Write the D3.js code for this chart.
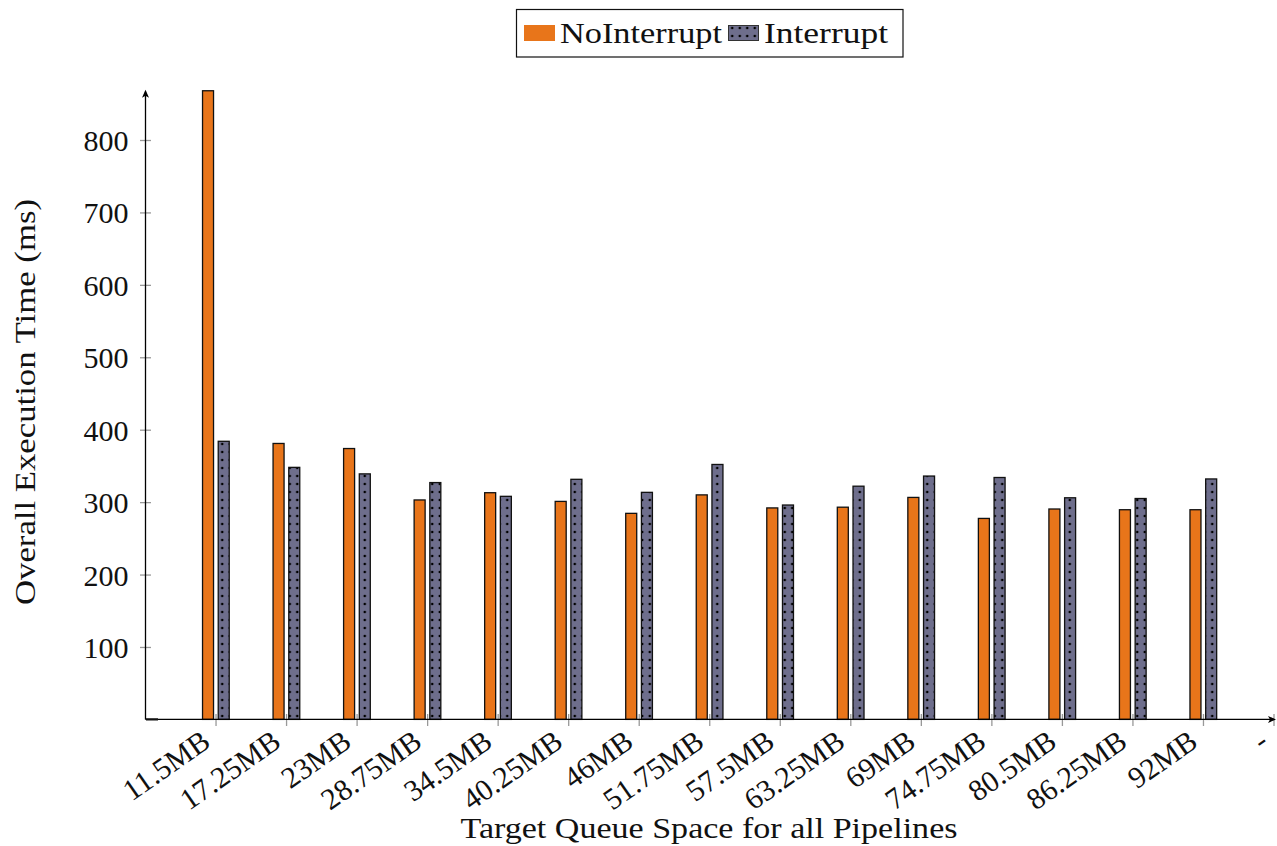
<!DOCTYPE html>
<html><head><meta charset="utf-8">
<script src="https://cdn.jsdelivr.net/npm/d3@7"></script>
<style>
body{margin:0;background:#fff}
svg{display:block}
text{font-family:"Liberation Serif","DejaVu Serif",serif;fill:#111}
</style>
</head><body>
<svg id="c" width="1277" height="846"></svg>
<script>
const categories = ["11.5MB","17.25MB","23MB","28.75MB","34.5MB","40.25MB","46MB","51.75MB","57.5MB","63.25MB","69MB","74.75MB","80.5MB","86.25MB","92MB"];
const extraTickLabels = ["-"];
const noInterrupt = [868,381,374,303,313,301,284.5,310,292,293,306.5,277.5,290.5,289.5,289.5];
const interrupt = [384,348,339,327,308,331.5,313.5,352,296,322,336,334,306,305,332];
const yTicks = [100,200,300,400,500,600,700,800];
const seriesNames = ["NoInterrupt","Interrupt"];
const yMax = 868;

const svg = d3.select("#c");
const orange = "#E8751A", slate = "#6E6E8C";

const defs = svg.append("defs");
const pat = defs.append("pattern").attr("id","dots").attr("patternUnits","userSpaceOnUse")
  .attr("width",7.5).attr("height",8).attr("x",1).attr("y",0);
pat.append("rect").attr("width",7.5).attr("height",8).attr("fill",slate);
pat.append("circle").attr("cx",3.75).attr("cy",4).attr("r",1.3).attr("fill","#000");

const x = d3.scaleLinear().domain([-1, 15]).range([145.5, 1274]);
const y = d3.scaleLinear().domain([0, 800]).range([719.4, 140]);

// y ticks
const yAxis = d3.axisLeft(y).tickValues(yTicks).tickSize(0).tickPadding(0).tickFormat(d3.format("d"));
const yg = svg.append("g").attr("transform","translate(145.5,0)").call(yAxis);
yg.select(".domain").remove();
yg.selectAll(".tick line").attr("x1",-5.5).attr("x2",5.5).attr("stroke","#999").attr("stroke-width",1.3);
yg.selectAll(".tick text").attr("x",-17).attr("dy","0.35em").attr("text-anchor","end")
  .style("font-size","30px").attr("fill","#111");

// x ticks
const tickIdx = d3.range(categories.length + extraTickLabels.length);
const allLabels = categories.concat(extraTickLabels);
const xg = svg.append("g");
xg.selectAll("line.xt").data(tickIdx).join("line").attr("class","xt")
  .attr("x1",d=>x(d)).attr("x2",d=>x(d)).attr("y1",714).attr("y2",726)
  .attr("stroke","#999").attr("stroke-width",1.3);
xg.selectAll("text.xl").data(tickIdx).join("text").attr("class","xl")
  .attr("transform",d=>`translate(${x(d)-10},737) rotate(-35)`)
  .attr("text-anchor","end").attr("dy","0.35em").style("font-size","30px")
  .text(d=>allLabels[d]);

// bars
const bw = 11;
const g = svg.append("g");
g.selectAll("rect.a").data(noInterrupt).join("rect").attr("class","a")
  .attr("x",(d,i)=>x(i)-13.5).attr("width",bw)
  .attr("y",d=>y(d)).attr("height",d=>y(0)-y(d))
  .attr("fill",orange).attr("stroke","#111").attr("stroke-width",1.3);
g.selectAll("rect.b").data(interrupt).join("rect").attr("class","b")
  .attr("x",(d,i)=>x(i)+2.2).attr("width",bw)
  .attr("y",d=>y(d)).attr("height",d=>y(0)-y(d))
  .attr("fill","url(#dots)").attr("stroke","#111").attr("stroke-width",1.3);

// axes lines with arrows
const yTop = y(yMax);
svg.append("line").attr("x1",145.5).attr("x2",145.5).attr("y1",y(0)).attr("y2",yTop+1)
  .attr("stroke","#000").attr("stroke-width",1.3);
svg.append("path").attr("d",`M145.5,${yTop-1} L149,${yTop+7} L145.5,${yTop+5} L142,${yTop+7} Z`).attr("fill","#000");
const xEnd = 1275;
svg.append("line").attr("x1",145.5).attr("x2",xEnd-1).attr("y1",y(0)).attr("y2",y(0))
  .attr("stroke","#000").attr("stroke-width",1.3);
svg.append("path").attr("d",`M${xEnd+1},${y(0)} L${xEnd-7},${y(0)-3.5} L${xEnd-5},${y(0)} L${xEnd-7},${y(0)+3.5} Z`).attr("fill","#000");
svg.append("line").attr("x1",146).attr("x2",158).attr("y1",y(0)).attr("y2",y(0))
  .attr("stroke","#111").attr("stroke-width",2.2);

// axis titles
svg.append("text").attr("x",709).attr("y",838).attr("text-anchor","middle")
  .style("font-size","30px").attr("textLength",497).attr("lengthAdjust","spacingAndGlyphs")
  .text("Target Queue Space for all Pipelines");
svg.append("text").attr("transform","translate(35,402) rotate(-90)").attr("text-anchor","middle")
  .style("font-size","30px").attr("textLength",406).attr("lengthAdjust","spacingAndGlyphs")
  .text("Overall Execution Time (ms)");

// legend
const lg = svg.append("g");
lg.append("rect").attr("x",516.5).attr("y",9.5).attr("width",386.5).attr("height",47.5)
  .attr("fill","#fff").attr("stroke","#111").attr("stroke-width",1.2);
lg.append("rect").attr("x",524).attr("y",25).attr("width",31).attr("height",16).attr("fill",orange);
lg.append("rect").attr("x",728.5).attr("y",25.5).attr("width",30).attr("height",15)
  .attr("fill","url(#dots)").attr("stroke","#333").attr("stroke-width",1);
lg.append("text").attr("x",560).attr("y",43).style("font-size","30px")
  .attr("textLength",162).attr("lengthAdjust","spacingAndGlyphs").text(seriesNames[0]);
lg.append("text").attr("x",764).attr("y",43).style("font-size","30px")
  .attr("textLength",124).attr("lengthAdjust","spacingAndGlyphs").text(seriesNames[1]);
</script>
</body></html>
